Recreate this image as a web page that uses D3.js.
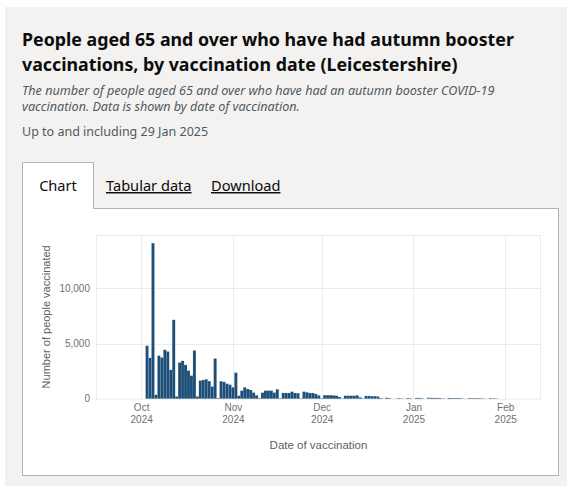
<!DOCTYPE html>
<html><head><meta charset="utf-8">
<script src="https://cdn.jsdelivr.net/npm/d3@7"></script>
<style>
html,body{margin:0;padding:0;background:#fff;}
svg{display:block;}
</style></head>
<body>
<svg id="c" width="567" height="486"></svg>
<script>
// ---------- data ----------
const titleLines = ["People aged 65 and over who have had autumn booster",
                    "vaccinations, by vaccination date (Leicestershire)"];
const subtitleLines = ["The number of people aged 65 and over who have had an autumn booster COVID-19",
                       "vaccination. Data is shown by date of vaccination."];
const updatedText = "Up to and including 29 Jan 2025";
const tabLabels = ["Chart", "Tabular data", "Download"];
const firstDate = "2024-10-03";
const octValues = [4800,3700,14100,350,3900,3730,4430,4280,2610,7150,200,3280,3430,3060,2550,2090,4370,200,
                   1640,1700,1760,1590,1100,3640,60,1580,1520,1360,1270];
const novValues = [1030,2360,270,730,1030,880,790,550,300,50,550,730,730,730,550,850,50,520,520,520,640,520,
                   500,40,640,580,520,520,430,300];
const decValues = [40,320,320,320,300,270,150,30,270,270,270,270,300,120,30,250,250,230,230,200,60,10,90,50,
                   5,10,50,30,5,60,40];
const janValues = [5,70,70,40,5,80,80,70,70,60,30,5,70,60,60,60,50,20,5,60,50,50,50,40,20,5,50,40,30];
const xTicks = ["2024-10-01","2024-11-01","2024-12-01","2025-01-01","2025-02-01"];
const yTicks = [0,5000,10000];
const xTitle = "Date of vaccination";
const yTitle = "Number of people vaccinated";

// ---------- build ----------
const parse = d3.utcParse("%Y-%m-%d");
const values = [...octValues, ...novValues, ...decValues, ...janValues];
const start = parse(firstDate);
const data = values.map((v,i)=>({date:d3.utcDay.offset(start,i), value:v}));

const svg = d3.select("#c");
svg.append("rect").attr("x",5).attr("y",7).attr("width",562).attr("height",479).attr("fill","#f3f2f1");

svg.append("text").attr("x",22).attr("y",46)
  .attr("font-family","'Noto Sans', sans-serif").attr("font-weight",700).attr("font-size",17.8)
  .attr("fill","#0b0c0c")
  .selectAll("tspan").data(titleLines).join("tspan")
  .attr("x",22).attr("dy",(d,i)=>i?25:0).text(d=>d);

svg.append("text").attr("x",22).attr("y",95)
  .attr("font-family","'Noto Sans', sans-serif").attr("font-style","italic").attr("font-size",12.6)
  .attr("fill","#505a5f")
  .selectAll("tspan").data(subtitleLines).join("tspan")
  .attr("x",22).attr("dy",(d,i)=>i?16:0).text(d=>d);

svg.append("text").attr("x",22).attr("y",136)
  .attr("font-family","'Noto Sans', sans-serif").attr("font-size",12.5)
  .attr("fill","#505a5f").text(updatedText);

// chart panel
svg.append("rect").attr("x",22.5).attr("y",208.5).attr("width",536).attr("height",267)
  .attr("fill","#fff").attr("stroke","#b1b4b6");
svg.append("path").attr("d","M22.5,209 V162.5 H93.5 V209").attr("fill","#fff").attr("stroke","#b1b4b6");
svg.append("rect").attr("x",23).attr("y",206).attr("width",70).attr("height",4).attr("fill","#fff");
svg.append("text").attr("x",58).attr("y",191).attr("text-anchor","middle")
  .attr("font-family","'Noto Sans', sans-serif").attr("font-size",14.6).attr("fill","#0b0c0c").text(tabLabels[0]);
const linkX = [106, 211];
[1,2].forEach((k,j)=>{
  svg.append("text").attr("x",linkX[j]).attr("y",191)
    .attr("font-family","'Noto Sans', sans-serif").attr("font-size",14.6).attr("fill","#0b0c0c")
    .attr("text-decoration","underline").text(tabLabels[k]);
});

// plot
const plot = {left:96, right:541, top:235, bottom:398.7};
const x = d3.scaleUtc()
  .domain([new Date(Date.UTC(2024,8,15,18)), new Date(Date.UTC(2025,1,13,2))])
  .range([plot.left, plot.right]);
const y = d3.scaleLinear().domain([0,14836]).range([plot.bottom, plot.top]);
const dayW = x(parse("2024-10-02")) - x(parse("2024-10-01"));

const g = svg.append("g");
g.append("rect").attr("x",plot.left+0.5).attr("y",plot.top+0.5)
  .attr("width",plot.right-plot.left-1).attr("height",plot.bottom-plot.top)
  .attr("fill","none").attr("stroke","#ebebeb");
g.selectAll(".yg").data(yTicks.filter(d=>d>0)).join("line")
  .attr("x1",plot.left).attr("x2",plot.right)
  .attr("y1",d=>Math.round(y(d))+0.5).attr("y2",d=>Math.round(y(d))+0.5)
  .attr("stroke","#ebebeb");
g.selectAll(".xg").data(xTicks.map(parse)).join("line")
  .attr("y1",plot.top).attr("y2",plot.bottom)
  .attr("x1",d=>Math.round(x(d))+0.5).attr("x2",d=>Math.round(x(d))+0.5)
  .attr("stroke","#ebebeb");

g.selectAll(".bar").data(data).join("rect")
  .attr("x",d=>x(d.date)-dayW/2).attr("width",dayW)
  .attr("y",d=>y(d.value)).attr("height",d=>y(0)-y(d.value))
  .attr("fill","#1d4e77").attr("stroke","rgba(255,255,255,0.2)").attr("stroke-width",0.4);

const yAxis = d3.axisLeft(y).tickValues(yTicks).tickFormat(d3.format(",")).tickSize(0).tickPadding(6);
const ya = svg.append("g").attr("transform",`translate(${plot.left},0)`).call(yAxis);
ya.select(".domain").remove();
ya.selectAll("text").attr("font-family","'Liberation Sans', Arial, sans-serif").attr("font-size",10).attr("fill","#707070");

const fmtM = d3.utcFormat("%b"), fmtY = d3.utcFormat("%Y");
const xAxis = d3.axisBottom(x).tickValues(xTicks.map(parse)).tickSize(0).tickPadding(9).tickFormat(()=>"");
const xa = svg.append("g").attr("transform",`translate(0,${plot.bottom})`).call(xAxis);
xa.select(".domain").remove();
xa.selectAll(".tick text").each(function(d){
  const t = d3.select(this).attr("font-family","'Liberation Sans', Arial, sans-serif")
    .attr("font-size",10).attr("fill","#707070");
  t.append("tspan").attr("x",0).attr("dy","0.3em").text(fmtM(d));
  t.append("tspan").attr("x",0).attr("dy","1.25em").text(fmtY(d));
});

svg.append("text").attr("x",(plot.left+plot.right)/2).attr("y",449).attr("text-anchor","middle")
  .attr("font-family","'Liberation Sans', Arial, sans-serif").attr("font-size",11.5).attr("fill","#606060").text(xTitle);
svg.append("text").attr("transform",`translate(50,${(plot.top+plot.bottom)/2}) rotate(-90)`)
  .attr("text-anchor","middle")
  .attr("font-family","'Liberation Sans', Arial, sans-serif").attr("font-size",11).attr("fill","#606060").text(yTitle);
</script>
</body></html>
